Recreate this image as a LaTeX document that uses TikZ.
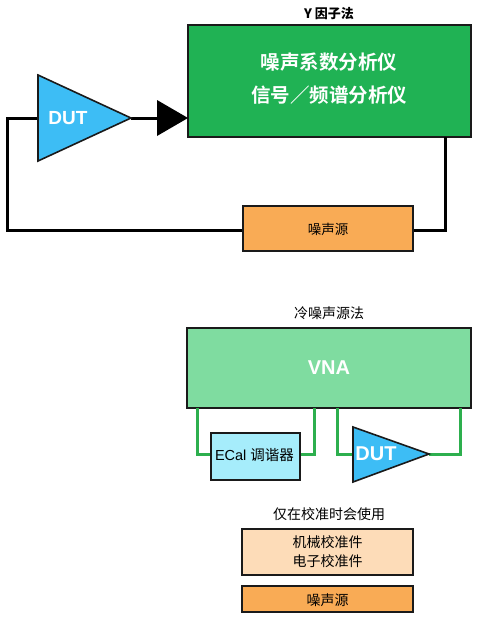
\documentclass[tikz,border=0pt]{standalone}
\usepackage{fontspec}
\setmainfont{Liberation Sans}
\newfontfamily\cjk{Noto Sans CJK SC}
\newfontfamily\cjkb{Noto Sans CJK SC Bold}
\usetikzlibrary{calc}
\definecolor{dgreen}{HTML}{20B254}
\definecolor{lgreen}{HTML}{7FDCA0}
\definecolor{wire}{HTML}{2DAF4E}
\definecolor{dutblue}{HTML}{3DBDF5}
\definecolor{ecal}{HTML}{A6EDFB}
\definecolor{orng}{HTML}{F9AB55}
\definecolor{peach}{HTML}{FDDCB8}
\definecolor{edge}{HTML}{1A1A1A}
\tikzset{
  box/.style={draw=edge,line width=1.6pt,inner sep=0pt},
  blk/.style={line width=3pt,draw=black},
  gw/.style={line width=3pt,draw=wire},
  amp/.style={draw=edge,line width=1.6pt,fill=dutblue,line join=miter},
  ttl/.style={font=\fontsize{13}{15}\selectfont\bfseries\cjkb},
}
\begin{document}
\begin{tikzpicture}[x=1pt,y=-1pt]
\useasboundingbox[fill=white] (0,0) rectangle (490,619);
% ---------- Y factor ----------
\node[ttl] (t1) at (329,14) {Y 因子法};
\node[box,fill=dgreen,minimum width=283pt,minimum height=112pt] (nfa) at (329.5,81) {};
\node[text=white,font=\fontsize{19.5}{33}\selectfont\cjkb,align=center] (nfat) at (329,79) {噪声系数分析仪\\信号／频谱分析仪};
\coordinate (d1l) at (38,118);
\coordinate (d1t) at (38,75);
\coordinate (d1b) at (38,161);
\coordinate (d1o) at (131,118);
\node[box,fill=orng,minimum width=170pt,minimum height=45pt] (ns1) at (328,228.5) {};
\node[font=\fontsize{13.5}{16}\selectfont\cjk] (ns1t) at (328,229) {噪声源};
\draw[blk] (d1l) -- (7,118) -- (7,230) -- (ns1.west |- 0,230);
\draw[blk] (ns1.east |- 0,230) -- (445,230) -- (445,137);
\draw[blk] (d1o) -- (158,118);
\fill[black] (157,100) -- (188,118) -- (157,136) -- cycle;
\draw[amp] (d1t) -- (d1o) -- (d1b) -- cycle;
\node[text=white,font=\fontsize{19}{20}\selectfont\bfseries] (dut1) at (68,118) {DUT};
% ---------- cold source ----------
\node[font=\fontsize{14}{16}\selectfont\cjk] (t2) at (329,313) {冷噪声源法};
\node[box,fill=lgreen,minimum width=284pt,minimum height=80pt] (vna) at (329,368) {};
\node[text=white,font=\fontsize{20}{22}\selectfont\bfseries] (vnat) at (329,368) {VNA};
\node[box,fill=ecal,minimum width=89pt,minimum height=47pt] (ecal) at (255.5,456.5) {};
\draw[gw] (197,408) -- (197,454) -- (ecal.west |- 0,454);
\draw[gw] (ecal.east |- 0,454) -- (314,454) -- (314,408);
\coordinate (d2t) at (353,427);
\coordinate (d2b) at (353,482);
\coordinate (d2o) at (429,454);
\draw[gw] (337,408) -- (337,454) -- (353,454);
\draw[gw] (d2o) -- (460,454) -- (460,408);
\node[font=\fontsize{14.5}{16}\selectfont] (ecalt) at (254.5,455) {ECal {\cjk 调谐器}};
\draw[amp] (d2t) -- (d2o) -- (d2b) -- cycle;
\node[text=white,font=\fontsize{20}{22}\selectfont\bfseries] (dut2) at (376,454) {DUT};
% ---------- calibration ----------
\node[font=\fontsize{14}{16}\selectfont\cjk] (t3) at (329,514) {仅在校准时会使用};
\node[box,fill=peach,minimum width=171pt,minimum height=46pt] (cal) at (327.5,552) {};
\node[font=\fontsize{14}{19}\selectfont\cjk,align=center] (calt) at (327.5,552) {机械校准件\\电子校准件};
\node[box,fill=orng,minimum width=171pt,minimum height=26pt] (ns2) at (327.5,599) {};
\node[font=\fontsize{14}{16}\selectfont\cjk] (ns2t) at (327.5,600) {噪声源};
\end{tikzpicture}
\end{document}
